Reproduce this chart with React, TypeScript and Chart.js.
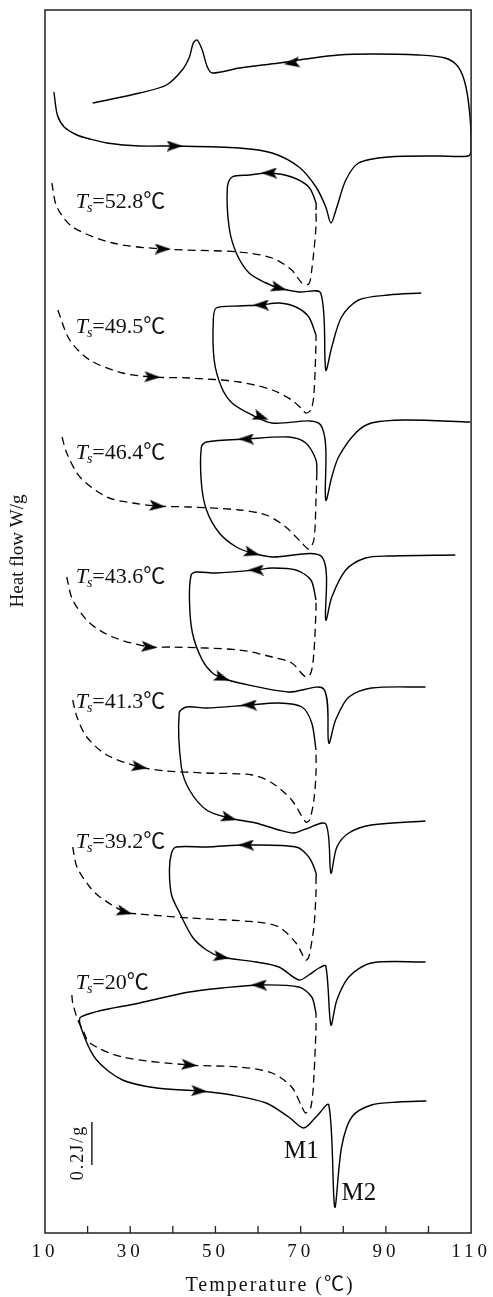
import React, { useEffect, useRef } from 'react';
import { Chart, registerables } from 'chart.js';
Chart.register(...registerables);

type P = [number, number];

// x axis (temperature, °C)
const xTickLabels = [10, 30, 50, 70, 90, 110];
const xMinorTicks = [20, 30, 40, 50, 60, 70, 80, 90, 100];

// heat flow in arbitrary stacked units (curves are offset vertically)
const fullCycle: P[] = [
  [12.1, 114.1], [12.9, 111.8], [14.5, 110.6], [17.5, 109.8], [20.5, 109.4], [24.5, 109.0], [32.2, 108.7], [40.4, 108.7],
  [55.6, 108.5], [63.3, 108.0], [69.6, 106.6], [73.6, 104.6], [75.9, 102.6], [77.1, 101.0], [78.5, 102.6],
  [80.6, 105.3], [83.6, 107.0], [90.6, 107.6], [102.3, 107.7], [109.3, 107.7], [110.0, 108.3], [109.8, 111.3],
  [108.8, 114.6], [107.0, 116.6], [103.9, 117.5], [97.6, 117.8], [86.6, 117.9], [78.9, 117.8], [71.2, 117.4],
  [64.9, 117.0], [55.6, 116.5], [49.3, 116.0], [48.1, 116.6], [46.9, 118.3], [45.7, 119.3], [44.8, 119.0],
  [43.9, 117.6], [42.2, 116.3], [38.5, 114.8], [32.2, 114.0], [21.2, 113.0],
];

const dash528: P[] = [
  [11.6, 105.0], [12.8, 102.6], [16.5, 100.6], [25.9, 99.0], [37.6, 98.4], [55.6, 98.1], [63.3, 97.5],
  [67.9, 96.3], [70.3, 95.0], [71.9, 94.9], [72.6, 96.3], [73.6, 100.6], [73.6, 102.3],
];
const loop528: P[] = [
  [73.6, 102.3], [73.6, 103.0], [71.9, 104.6], [67.9, 105.6], [62.6, 106.0], [57.9, 105.8], [53.9, 105.6],
  [52.8, 104.6], [53.2, 100.6], [54.9, 98.0], [57.9, 96.0], [61.9, 95.0], [64.9, 94.5], [69.6, 94.1],
  [74.7, 94.0], [75.9, 86.3], [77.3, 88.6], [79.6, 91.6], [83.6, 93.3], [90.6, 93.8], [98.3, 94.0],
];

const dash495: P[] = [
  [13.0, 92.3], [15.8, 89.3], [20.5, 87.3], [28.2, 86.0], [35.2, 85.6], [43.9, 85.5], [55.6, 85.1], [63.3, 84.3],
  [67.9, 83.3], [70.3, 82.4], [71.2, 82.0], [72.4, 82.3], [73.1, 83.8], [73.6, 89.0], [73.6, 89.8],
];
const loop495: P[] = [
  [73.6, 89.8], [71.9, 91.6], [68.9, 92.6], [64.9, 93.0], [60.7, 92.8], [55.6, 92.7], [50.2, 92.5], [49.5, 91.3],
  [49.7, 87.3], [51.4, 84.6], [53.9, 83.0], [58.6, 81.8], [63.3, 81.0], [74.7, 80.8], [75.9, 73.3], [77.3, 75.6],
  [78.9, 77.6], [82.9, 80.0], [86.6, 81.0], [94.6, 81.3], [109.8, 81.1],
];

const dash464: P[] = [
  [14.0, 79.6], [15.1, 78.0], [18.2, 75.6], [24.5, 73.6], [30.6, 73.0], [36.4, 72.7], [43.9, 72.6], [55.6, 72.3],
  [61.9, 71.8], [66.5, 70.6], [70.3, 69.0], [71.9, 68.4], [73.1, 69.3], [73.6, 73.3], [73.8, 76.0],
];
const loop464: P[] = [
  [73.8, 76.0], [73.6, 77.3], [71.2, 79.0], [67.2, 79.6], [57.2, 79.4], [47.9, 79.1], [46.7, 78.6], [46.7, 75.0],
  [47.9, 72.3], [50.9, 70.0], [54.9, 68.6], [58.6, 68.0], [63.3, 67.6], [75.0, 67.6], [75.9, 61.3], [77.3, 63.6],
  [80.6, 66.3], [85.2, 67.5], [90.6, 67.7], [106.3, 67.8],
];

const dash436: P[] = [
  [15.1, 65.6], [16.5, 63.3], [20.5, 61.0], [25.9, 59.6], [34.5, 58.6], [39.9, 58.6], [55.6, 58.3], [63.3, 57.6],
  [67.9, 57.0], [71.2, 55.6], [72.4, 56.0], [73.1, 58.0], [73.6, 62.3], [73.6, 63.3],
];
const loop436: P[] = [
  [73.6, 63.3], [72.4, 65.3], [68.9, 66.3], [63.3, 66.5], [59.5, 66.3], [50.2, 66.0], [45.5, 66.1], [44.3, 65.8],
  [43.9, 63.3], [44.6, 60.0], [46.9, 57.3], [49.3, 56.0], [51.6, 55.5], [55.6, 55.0], [67.2, 54.1], [75.4, 54.4],
  [76.6, 49.0], [78.2, 51.3], [81.3, 53.6], [86.6, 54.5], [99.3, 54.6],
];

const dash413: P[] = [
  [16.5, 53.3], [17.5, 51.6], [19.8, 49.6], [24.5, 47.8], [32.2, 46.6], [38.5, 46.2], [47.9, 46.0], [58.6, 45.8],
  [63.3, 45.0], [67.9, 43.3], [71.2, 41.1], [72.1, 41.3], [73.1, 43.3], [73.6, 46.0], [73.6, 48.3],
];
const loop413: P[] = [
  [73.6, 48.3], [72.6, 51.0], [70.3, 52.6], [64.9, 53.0], [57.9, 52.8], [47.9, 52.5], [43.2, 52.6], [41.5, 52.0],
  [42.0, 46.6], [43.9, 44.3], [47.9, 42.3], [53.2, 41.5], [59.5, 41.0], [64.9, 40.3], [68.4, 40.0], [71.2, 40.4],
  [75.9, 40.9], [77.1, 36.0], [78.5, 38.6], [81.3, 40.0], [86.6, 40.8], [99.3, 41.2],
];

const dash392: P[] = [
  [16.5, 38.6], [17.5, 36.6], [20.5, 34.6], [22.9, 33.6], [28.7, 32.1], [32.2, 31.9], [43.9, 31.5], [59.5, 31.1],
  [64.9, 30.6], [68.9, 29.0], [71.2, 27.3], [71.9, 27.6], [73.1, 30.6], [73.6, 34.0], [73.6, 35.3],
];
const loop392: P[] = [
  [73.6, 35.3], [73.6, 36.0], [71.9, 37.6], [68.9, 38.6], [57.2, 38.8], [47.9, 38.6], [40.8, 38.6], [39.7, 38.0],
  [39.2, 36.3], [39.7, 33.8], [41.5, 32.1], [44.6, 29.6], [47.9, 28.3], [51.4, 27.6], [59.5, 27.1], [64.9, 26.6],
  [69.6, 25.3], [71.9, 25.8], [74.3, 26.5], [75.9, 26.7], [77.1, 20.8], [78.5, 23.3], [81.3, 25.6], [86.6, 27.0],
  [99.3, 27.1],
];

const dash200: P[] = [
  [16.3, 23.8], [16.5, 23.0], [17.7, 21.3], [18.9, 20.3], [20.5, 19.0], [28.2, 17.6], [43.9, 16.8], [55.6, 16.6],
  [63.3, 16.0], [67.9, 14.6], [70.3, 12.6], [71.2, 12.0], [72.4, 12.6], [73.1, 15.6], [73.6, 20.6], [73.6, 22.0],
];
const loop200: P[] = [
  [73.6, 22.0], [72.6, 23.6], [69.6, 24.6], [60.2, 24.8], [51.6, 24.5], [43.9, 24.1], [32.2, 23.0], [18.4, 21.6],
  [18.9, 20.0], [22.1, 17.3], [28.2, 15.3], [36.2, 14.5], [46.2, 14.2], [53.9, 13.8], [61.9, 13.0], [67.2, 11.6],
  [70.7, 10.5], [73.6, 11.6], [76.6, 12.8], [78.0, 2.6], [79.6, 8.6], [82.0, 11.6], [86.6, 12.8], [92.9, 13.1],
  [99.5, 13.2],
];

const solidCurves: P[][] = [fullCycle, loop528, loop495, loop464, loop436, loop413, loop392, loop200];
const dashedCurves: P[][] = [dash528, dash495, dash464, dash436, dash413, dash392, dash200];

// arrows: [T, heat flow, direction in degrees (0 = right)]
const arrows: [number, number, number][] = [
  [40.4, 108.7, 0], [67.9, 117.0, 172],
  [37.6, 98.4, 0], [62.6, 106.0, 180], [64.9, 94.5, 15],
  [35.2, 85.6, 2], [60.7, 92.8, 180], [60.7, 81.6, 20],
  [36.4, 72.7, 5], [57.2, 79.4, 180], [58.6, 68.0, 15],
  [34.5, 58.6, 5], [59.5, 66.3, 180], [51.6, 55.5, 20],
  [32.2, 46.6, 10], [57.9, 52.8, 180], [53.2, 41.5, 15],
  [28.7, 32.1, 15], [57.2, 38.8, 180], [51.4, 27.6, 10],
  [43.9, 16.8, 5], [60.2, 24.8, 180], [46.2, 14.2, 3],
];

const tsValues = ['52.8', '49.5', '46.4', '43.6', '41.3', '39.2', '20'];
const tsLabelPos: P[] = [
  [17.2, 102.5], [17.2, 90.0], [17.2, 77.4], [17.2, 65.0], [17.2, 52.5], [17.2, 38.5], [17.2, 24.4],
];
const peakLabels = ['M1', 'M2'];
const peakLabelPos: P[] = [[66.1, 7.5], [79.6, 3.3]];
const scaleBarText = '0.2J/g';
const scaleBar: P[] = [[21.0, 11.1], [21.0, 6.8]];

const SERIF = '"Liberation Serif", "Noto Sans CJK SC", serif';

function makeArrow(): HTMLCanvasElement {
  const c = document.createElement('canvas');
  c.width = 16;
  c.height = 11;
  const g = c.getContext('2d')!;
  g.fillStyle = '#000';
  g.beginPath();
  g.moveTo(16, 5.5);
  g.lineTo(0, 0);
  g.lineTo(3.5, 5.5);
  g.lineTo(0, 11);
  g.closePath();
  g.fill();
  return c;
}

const decorPlugin = {
  id: 'decor',
  beforeDraw(chart: any) {
    const ctx = chart.ctx;
    ctx.save();
    ctx.fillStyle = '#fff';
    ctx.fillRect(0, 0, chart.width, chart.height);
    ctx.restore();
    ctx.letterSpacing = '4px';
  },
  beforeDatasetsDraw(chart: any) {
    chart.ctx.letterSpacing = '0px';
  },
  afterDraw(chart: any) {
    const ctx = chart.ctx;
    const { left, right, top, bottom } = chart.chartArea;
    const xs = chart.scales.x;
    const ys = chart.scales.y;
    ctx.save();
    ctx.letterSpacing = '0px';
    // frame
    ctx.strokeStyle = '#222';
    ctx.lineWidth = 1.5;
    ctx.strokeRect(left, top, right - left, bottom - top);
    // inward ticks
    ctx.lineWidth = 1.3;
    xMinorTicks.forEach((v) => {
      const px = xs.getPixelForValue(v);
      ctx.beginPath();
      ctx.moveTo(px, bottom);
      ctx.lineTo(px, bottom - 7);
      ctx.stroke();
    });
    ctx.fillStyle = '#111';
    ctx.textBaseline = 'alphabetic';
    // Ts labels
    tsValues.forEach((val, i) => {
      const x = xs.getPixelForValue(tsLabelPos[i][0]);
      const y = ys.getPixelForValue(tsLabelPos[i][1]);
      ctx.textAlign = 'left';
      ctx.font = `italic 22px ${SERIF}`;
      ctx.fillText('T', x, y);
      let w = ctx.measureText('T').width;
      ctx.font = `italic 14px ${SERIF}`;
      ctx.fillText('s', x + w - 1, y + 4);
      w += ctx.measureText('s').width - 1;
      ctx.font = `22px ${SERIF}`;
      ctx.fillText('=' + val + '℃', x + w, y);
    });
    // peak labels
    ctx.font = `25px ${SERIF}`;
    peakLabels.forEach((t, i) => {
      ctx.fillText(t, xs.getPixelForValue(peakLabelPos[i][0]), ys.getPixelForValue(peakLabelPos[i][1]));
    });
    // scale bar
    const bx = xs.getPixelForValue(scaleBar[0][0]);
    const by1 = ys.getPixelForValue(scaleBar[0][1]);
    const by2 = ys.getPixelForValue(scaleBar[1][1]);
    ctx.lineWidth = 1.5;
    ctx.beginPath();
    ctx.moveTo(bx, by1);
    ctx.lineTo(bx, by2);
    ctx.stroke();
    ctx.save();
    ctx.translate(bx - 14, (by1 + by2) / 2 + 9);
    ctx.rotate(-Math.PI / 2);
    ctx.textAlign = 'center';
    ctx.textBaseline = 'middle';
    ctx.font = `18px ${SERIF}`;
    ctx.letterSpacing = '2px';
    ctx.fillText(scaleBarText, 0, 0);
    ctx.restore();
    // y title
    ctx.save();
    ctx.translate(18, 551);
    ctx.rotate(-Math.PI / 2);
    ctx.textAlign = 'center';
    ctx.textBaseline = 'middle';
    ctx.font = `19px ${SERIF}`;
    ctx.fillText('Heat flow W/g', 0, 0);
    ctx.restore();
    // x title
    ctx.textAlign = 'center';
    ctx.textBaseline = 'alphabetic';
    ctx.font = `20px ${SERIF}`;
    ctx.letterSpacing = '2px';
    ctx.fillText('Temperature (℃)', (left + right) / 2 + 12, bottom + 58);
    ctx.restore();
  },
};

export default function App() {
  const ref = useRef<HTMLCanvasElement>(null);
  useEffect(() => {
    const arrow = makeArrow();
    const toXY = (arr: P[]) => arr.map(([x, y]) => ({ x, y }));
    const datasets: any[] = [];
    datasets.push({
      data: arrows.map(([x, y]) => ({ x, y })),
      showLine: false,
      pointStyle: arrow,
      pointRadius: 6,
      pointRotation: arrows.map((a) => a[2]),
      borderColor: '#000',
      backgroundColor: '#000',
    });
    solidCurves.forEach((c) =>
      datasets.push({
        data: toXY(c),
        borderColor: '#000',
        borderWidth: 1.4,
        pointRadius: 0,
        tension: 0.3,
        fill: false,
      })
    );
    dashedCurves.forEach((c) =>
      datasets.push({
        data: toXY(c),
        borderColor: '#000',
        borderWidth: 1.3,
        borderDash: [8, 5],
        pointRadius: 0,
        tension: 0.3,
        fill: false,
      })
    );
    const chart = new Chart(ref.current!, {
      type: 'line',
      data: { datasets },
      plugins: [decorPlugin],
      options: {
        responsive: false,
        animation: false,
        events: [],
        layout: { padding: { left: 45, right: 20, top: 10, bottom: 0 }, autoPadding: false },
        plugins: { legend: { display: false }, tooltip: { enabled: false } },
        scales: {
          x: {
            type: 'linear',
            min: 10,
            max: 110,
            afterFit: (s: any) => {
              s.height = 64;
            },
            grid: { display: false, drawTicks: false },
            border: { display: false },
            ticks: {
              stepSize: 10,
              autoSkip: false,
              maxRotation: 0,
              padding: 8,
              color: '#111',
              font: { family: SERIF, size: 19 },
              callback: (v: any) => (xTickLabels.includes(Number(v)) ? String(v) : ''),
            },
          },
          y: { type: 'linear', min: 0, max: 122.3, display: false },
        },
      } as any,
    });
    return () => chart.destroy();
  }, []);
  return (
    <div style={{ position: 'absolute', left: 0, top: 0, width: 493, height: 1297, background: '#fff' }}>
      <canvas ref={ref} width={493} height={1297} style={{ display: 'block' }} />
    </div>
  );
}
